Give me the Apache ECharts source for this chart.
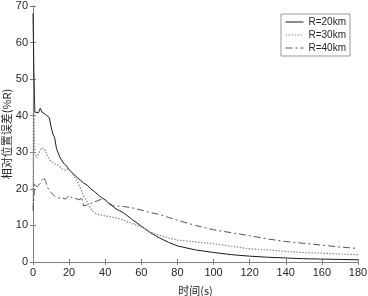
<!DOCTYPE html>
<html>
<head>
<meta charset="utf-8">
<script src="https://cdn.jsdelivr.net/npm/echarts@6/dist/echarts.min.js"></script>
<style>
  html, body { margin: 0; padding: 0; background: #fff; }
  #chart { width: 368px; height: 296px; }
</style>
</head>
<body>
<div id="chart"></div>
<script>
// time (s) / relative position error (%R)
var r20 = [[0,68],[0.5,52],[1,41],[2,41.5],[3,40.8],[4,42],[5,41],[6,41.2],[7,40.3],[8,40],[9,39.5],[10,37],[11,35],[12,34],[13,31],[14,30.5],[15,28.5],[16,29],[17,27],[18,27.3],[19,26],[20,25.2],[22,24.3],[24,23.3],[26,22.5],[28,21.6],[30,21],[32,20],[34,19.3],[36,18.4],[38,17.6],[40,17],[42,16],[44,15.3],[46,14.5],[48,14],[50,13.5],[55,11.6],[60,9.8],[65,8],[70,6.6],[75,5.4],[80,4.4],[90,3.3],[100,2.6],[110,2],[120,1.6],[130,1.3],[140,1.1],[150,0.9],[160,0.8],[170,0.7],[180,0.6]]
var r30 = [[0,15],[0.3,48],[1,30],[2,28.5],[3,29.5],[4,30.5],[5,31.3],[6,31.5],[7,30.5],[8,29],[9,28],[10,27.5],[12,26.8],[14,26.5],[16,25.5],[18,25],[20,25.5],[22,24],[24,22.5],[26,20.5],[28,18],[30,16.5],[32,14.5],[34,13.5],[36,13],[38,12.8],[40,12.6],[45,12.2],[50,11.5],[55,10.5],[60,9.6],[65,8.2],[70,7.3],[75,6.6],[80,6],[90,5.5],[100,5],[110,4.3],[120,3.6],[130,3.3],[140,2.9],[150,2.6],[160,2.4],[170,2.2],[180,2.0]]
var r40 = [[0,14],[1,21.5],[2,20.5],[3,20.3],[4,21.5],[5,22.5],[6,23.2],[7,22],[8,20.5],[9,19.5],[10,19],[12,18],[14,17.5],[16,17.6],[18,17.2],[20,18.2],[22,17.4],[24,17.3],[26,17],[27,17.8],[28,15.3],[30,15.6],[32,16],[34,16.4],[36,16.8],[38,17.2],[40,17],[42,16.2],[44,15.5],[46,15.2],[48,15.3],[50,15.2],[55,14.8],[60,14.2],[65,13.5],[70,13],[75,12.2],[80,11.4],[90,10],[100,8.8],[110,8],[120,7.2],[130,6.3],[140,5.6],[150,5.1],[160,4.6],[170,4.1],[180,3.7]]
var seriesNames = ['R=20km', 'R=30km', 'R=40km']

var axisColor = '#808080'
var textColor = '#262626'
var numFont = 'Liberation Sans, Arial, sans-serif'

function frameAxis(pos, max, interval) {
    return {
        type: 'value', position: pos, min: 0, max: max, interval: interval,
        axisLine: {show: true, lineStyle: {color: axisColor, width: 1}},
        axisTick: {show: true, inside: true, length: 3, lineStyle: {color: axisColor}},
        axisLabel: {show: false},
        splitLine: {show: false}
    }
}

var chart = echarts.init(document.getElementById('chart'))
var option = {
    animation: false,
    backgroundColor: '#fff',
    grid: {left: 33, right: 10, top: 6, bottom: 34, containLabel: false, outerBoundsMode: 'none'},
    legend: {
        right: 18, top: 14,
        orient: 'vertical',
        itemWidth: 18, itemHeight: 8, itemGap: 3,
        padding: [3, 4, 3, 4],
        borderColor: '#999', borderWidth: 1,
        backgroundColor: '#fff',
        itemStyle: {color: 'rgba(0,0,0,0)', borderWidth: 0},
        lineStyle: {width: 1},
        textStyle: {fontFamily: numFont, fontSize: 10, color: textColor},
        data: seriesNames
    },
    xAxis: [{
        type: 'value', min: 0, max: 180, interval: 20,
        name: '时间(s)', nameLocation: 'middle', nameGap: 23, nameMoveOverlap: false,
        nameTextStyle: {fontFamily: 'Noto Sans CJK SC', fontSize: 11, color: textColor},
        axisLine: {show: true, lineStyle: {color: axisColor, width: 1}},
        axisTick: {show: true, inside: true, length: 3, lineStyle: {color: axisColor}},
        axisLabel: {fontFamily: numFont, fontSize: 11, color: textColor, margin: 5},
        splitLine: {show: false}
    }, frameAxis('top', 180, 20)],
    yAxis: [{
        type: 'value', min: 0, max: 70, interval: 10,
        name: '相对位置误差(%R)', nameLocation: 'middle', nameGap: 21, nameMoveOverlap: false,
        nameTextStyle: {fontFamily: 'Noto Sans CJK SC', fontSize: 11, color: textColor},
        axisLine: {show: true, lineStyle: {color: axisColor, width: 1}},
        axisTick: {show: true, inside: true, length: 3, lineStyle: {color: axisColor}},
        axisLabel: {fontFamily: numFont, fontSize: 11, color: textColor, margin: 5},
        splitLine: {show: false}
    }, frameAxis('right', 70, 10)],
    series: [{
        name: seriesNames[0], type: 'line', data: r20, symbol: 'none',
        lineStyle: {color: '#1a1a1a', width: 1, type: 'solid'},
        itemStyle: {color: '#1a1a1a'}
    }, {
        name: seriesNames[1], type: 'line', data: r30, symbol: 'none',
        lineStyle: {color: '#8a8a8a', width: 1.2, type: [1.5, 1.5]},
        itemStyle: {color: '#8a8a8a'}
    }, {
        name: seriesNames[2], type: 'line', data: r40, symbol: 'none',
        lineStyle: {color: '#555', width: 1, type: [7, 3, 2, 3]},
        itemStyle: {color: '#555'}
    }]
}

option && chart.setOption(option)
</script>
</body>
</html>
